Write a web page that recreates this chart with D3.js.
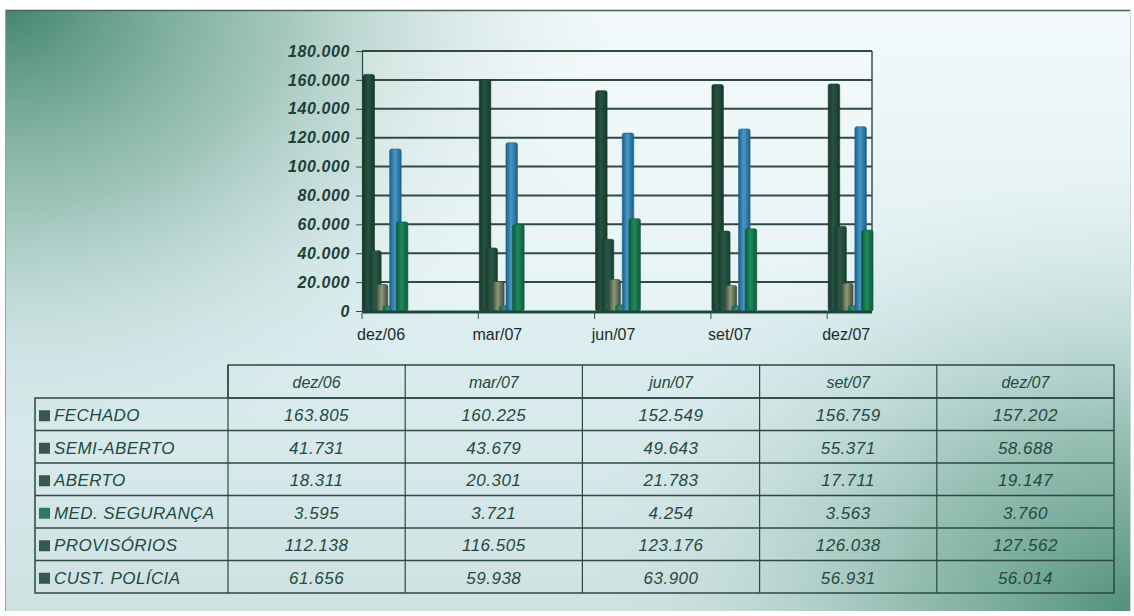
<!DOCTYPE html>
<html><head><meta charset="utf-8">
<script src="https://cdn.jsdelivr.net/npm/d3@7"></script>
<style>body{margin:0;background:#fff;}svg{display:block;}</style>
</head><body>
<script>
const categories = ["dez/06","mar/07","jun/07","set/07","dez/07"];
const seriesNames = ["FECHADO","SEMI-ABERTO","ABERTO","MED. SEGURANÇA","PROVISÓRIOS","CUST. POLÍCIA"];
const fechado = [163805,160225,152549,156759,157202];
const semiAberto = [41731,43679,49643,55371,58688];
const aberto = [18311,20301,21783,17711,19147];
const medSeguranca = [3595,3721,4254,3563,3760];
const provisorios = [112138,116505,123176,126038,127562];
const custPolicia = [61656,59938,63900,56931,56014];
const yTicks = [0,20000,40000,60000,80000,100000,120000,140000,160000,180000];

const seriesValues = [fechado, semiAberto, aberto, medSeguranca, provisorios, custPolicia];
const barColors = [
  ["#163829","#275343"],
  ["#183f30","#2b5847"],
  ["#3f4d3e","#8d9a78"],
  ["#1f5f50","#3a8a76"],
  ["#1c5f8a","#4797c6"],
  ["#0e5a3c","#1f8a5a"]
];
const squareColors = ["#35594e","#35594e","#35594e","#2c7866","#35594e","#35594e"];

const W=1134,H=616;
const fmt = d3.formatLocale({decimal:",",thousands:".",grouping:[3],currency:["",""]}).format(",d");

const svg = d3.select("body").append("svg").attr("width",W).attr("height",H);
const defs = svg.append("defs");

const rTL = defs.append("radialGradient").attr("id","rTL").attr("gradientUnits","userSpaceOnUse")
  .attr("cx",0).attr("cy",0).attr("r",620).attr("gradientTransform","matrix(1,0,0,0.75,0,0)");
rTL.append("stop").attr("offset","0%").attr("stop-color","#3f8369").attr("stop-opacity",1);
rTL.append("stop").attr("offset","45%").attr("stop-color","#7fb0a0").attr("stop-opacity",0.7);
rTL.append("stop").attr("offset","100%").attr("stop-color","#cfe4e4").attr("stop-opacity",0);
const rBR = defs.append("radialGradient").attr("id","rBR").attr("gradientUnits","userSpaceOnUse")
  .attr("cx",1134).attr("cy",616).attr("r",560).attr("gradientTransform","matrix(1,0,0,0.8,0,123)");
rBR.append("stop").attr("offset","0%").attr("stop-color","#4f8f78").attr("stop-opacity",1);
rBR.append("stop").attr("offset","40%").attr("stop-color","#7fb0a0").attr("stop-opacity",0.75);
rBR.append("stop").attr("offset","100%").attr("stop-color","#cfe4e4").attr("stop-opacity",0);
const lin = defs.append("linearGradient").attr("id","base").attr("x1",0).attr("y1",0).attr("x2",0).attr("y2",1);
lin.append("stop").attr("offset","0%").attr("stop-color","#f3f9fa");
lin.append("stop").attr("offset","55%").attr("stop-color","#dcedf0");
lin.append("stop").attr("offset","100%").attr("stop-color","#cfe2e2");

svg.append("rect").attr("x",5).attr("y",10).attr("width",1126).attr("height",601).attr("fill","url(#base)");
svg.append("rect").attr("x",5).attr("y",10).attr("width",1126).attr("height",601).attr("fill","url(#rTL)");
svg.append("rect").attr("x",5).attr("y",10).attr("width",1126).attr("height",601).attr("fill","url(#rBR)");
svg.append("line").attr("x1",5).attr("x2",1131).attr("y1",10.5).attr("y2",10.5).attr("stroke","#4d625c").attr("stroke-width",1.5);
svg.append("line").attr("x1",5.5).attr("x2",5.5).attr("y1",10).attr("y2",611).attr("stroke","#8aa8a0").attr("stroke-width",1);
svg.append("line").attr("x1",1130.5).attr("x2",1130.5).attr("y1",10).attr("y2",611).attr("stroke","#c8d8d6").attr("stroke-width",1);

barColors.forEach((c,i)=>{
  const g = defs.append("linearGradient").attr("id","bar"+i).attr("x1",0).attr("x2",1).attr("y1",0).attr("y2",0);
  g.append("stop").attr("offset","0%").attr("stop-color",c[0]);
  g.append("stop").attr("offset","45%").attr("stop-color",c[1]);
  g.append("stop").attr("offset","100%").attr("stop-color",c[0]);
});

const plotL=362, plotR=872, plotT=51, plotB=311;
const y = d3.scaleLinear().domain([0,180000]).range([plotB,plotT]);
const x = d3.scaleBand().domain(categories).range([plotL, plotL+5*116.3]).paddingInner(0).paddingOuter(0);
const xs = d3.scaleBand().domain(seriesNames).range([1,41]);
const barW = 11.5;

const chart = svg.append("g");
chart.append("rect").attr("x",plotL).attr("y",plotT).attr("width",plotR-plotL).attr("height",plotB-plotT)
  .attr("fill","#ffffff").attr("fill-opacity",0.25);

chart.append("g").selectAll("line").data(yTicks.filter(d=>d>0)).join("line")
  .attr("x1",plotL).attr("x2",plotR).attr("y1",d=>y(d)).attr("y2",d=>y(d))
  .attr("stroke","#2f4a44").attr("stroke-width",2);
chart.append("line").attr("x1",plotR).attr("x2",plotR).attr("y1",plotT).attr("y2",plotB)
  .attr("stroke","#3a524c").attr("stroke-width",1.5);

const yAxis = chart.append("g").attr("transform",`translate(${plotL},0)`)
  .call(d3.axisLeft(y).tickValues(yTicks).tickFormat(d=>fmt(d)).tickSize(6).tickPadding(6));
yAxis.select(".domain").attr("stroke","#2f4a44").attr("stroke-width",1.2);
yAxis.selectAll(".tick line").attr("stroke","#2f4a44");
yAxis.selectAll("text").attr("font-family","'Liberation Sans', Arial, sans-serif")
  .attr("font-size",16).attr("font-weight","bold").attr("font-style","italic")
  .attr("letter-spacing","0.6px").attr("fill","#1f4036");

const groups = chart.append("g").selectAll("g").data(categories).join("g")
  .attr("transform",d=>`translate(${x(d)},0)`);
groups.selectAll("rect").data((c,ci)=>seriesNames.map((s,si)=>({s,si,v:seriesValues[si][ci]}))).join("rect")
  .attr("x",d=>xs(d.s)).attr("width",barW)
  .attr("y",d=>y(d.v)).attr("height",d=>plotB-y(d.v))
  .attr("rx",2)
  .attr("fill",d=>`url(#bar${d.si})`)
  .attr("stroke",d=>barColors[d.si][0]).attr("stroke-width",0.6);

chart.append("line").attr("x1",plotL).attr("x2",plotR).attr("y1",plotB+1).attr("y2",plotB+1)
  .attr("stroke","#1c4a3a").attr("stroke-width",3);

const xAxis = chart.append("g").attr("transform",`translate(0,${plotB+2})`)
  .call(d3.axisBottom(x).tickSize(6).tickPadding(10));
xAxis.select(".domain").remove();
xAxis.selectAll(".tick").attr("transform",d=>`translate(${x(d)},0)`);
xAxis.selectAll(".tick line").attr("stroke","#3a524c");
xAxis.selectAll("text").attr("x",19).attr("font-family","'Liberation Sans', Arial, sans-serif")
  .attr("font-size",16).attr("fill","#1d2a2a");

const colX = d3.scaleBand().domain(categories).range([228,1114]);
const rowY = d3.scaleBand().domain(seriesNames).range([398,593]);
const tableLeft = 35, headTop = 365;
const tb = svg.append("g");
const lineC = "#2a4a42";
tb.append("rect").attr("x",228).attr("y",headTop).attr("width",1114-228).attr("height",398-headTop)
  .attr("fill","none").attr("stroke",lineC).attr("stroke-width",1.5);
tb.append("rect").attr("x",tableLeft).attr("y",398).attr("width",1114-tableLeft).attr("height",593-398)
  .attr("fill","none").attr("stroke",lineC).attr("stroke-width",1.5);
tb.selectAll("line.h").data(seriesNames.slice(1)).join("line").attr("class","h")
  .attr("x1",tableLeft).attr("x2",1114).attr("y1",d=>rowY(d)).attr("y2",d=>rowY(d))
  .attr("stroke",lineC).attr("stroke-width",1.5);
tb.selectAll("line.v").data(categories).join("line").attr("class","v")
  .attr("x1",d=>colX(d)).attr("x2",d=>colX(d)).attr("y1",headTop).attr("y2",593)
  .attr("stroke",lineC).attr("stroke-width",1.2);

const tf = "'Liberation Sans', Arial, sans-serif";
tb.selectAll("text.hd").data(categories).join("text").attr("class","hd")
  .attr("x",d=>colX(d)+colX.bandwidth()/2).attr("y",(headTop+398)/2+6)
  .attr("text-anchor","middle").attr("font-family",tf).attr("font-style","italic")
  .attr("font-size",16).attr("fill","#244a40").text(d=>d);

const rows = tb.selectAll("g.row").data(seriesNames).join("g").attr("class","row")
  .attr("transform",d=>`translate(0,${rowY(d)})`);
rows.append("rect").attr("x",39).attr("y",rowY.bandwidth()/2-4).attr("width",11).attr("height",11)
  .attr("fill",(d,i)=>squareColors[i]);
rows.append("text").attr("x",54).attr("y",rowY.bandwidth()/2+7)
  .attr("font-family",tf).attr("font-style","italic").attr("font-size",17).attr("letter-spacing","0.4px")
  .attr("fill","#214a3f").text(d=>d);
rows.selectAll("text.v").data((s,si)=>categories.map((c,ci)=>({c,v:seriesValues[si][ci]}))).join("text")
  .attr("class","v").attr("x",d=>colX(d.c)+colX.bandwidth()/2).attr("y",rowY.bandwidth()/2+7)
  .attr("text-anchor","middle").attr("font-family",tf).attr("font-style","italic").attr("font-size",17)
  .attr("letter-spacing","0.5px")
  .attr("fill","#244a40").text(d=>fmt(d.v));
</script>
</body></html>
